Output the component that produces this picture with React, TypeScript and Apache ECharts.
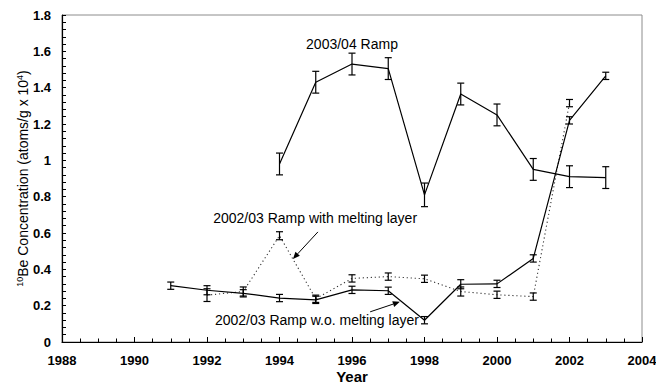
import React, { useEffect, useRef } from "react";
import * as echarts from "echarts";

// ---- Data ----
const yearsRamp0304 = [1994, 1995, 1996, 1997, 1998, 1999, 2000, 2001, 2002, 2003];
const ramp0304 = [0.98, 1.43, 1.53, 1.505, 0.81, 1.365, 1.25, 0.95, 0.91, 0.905];
const ramp0304Err = [0.06, 0.06, 0.06, 0.06, 0.065, 0.06, 0.06, 0.06, 0.06, 0.06];

const yearsWithout = [1991, 1992, 1993, 1994, 1995, 1996, 1997, 1998, 1999, 2000, 2001, 2002, 2003];
const rampWithout = [0.31, 0.285, 0.268, 0.242, 0.232, 0.287, 0.282, 0.12, 0.318, 0.32, 0.46, 1.22, 1.465];
const rampWithoutErr = [0.02, 0.025, 0.02, 0.02, 0.02, 0.02, 0.02, 0.02, 0.025, 0.02, 0.02, 0.02, 0.02];

const yearsWith = [1992, 1993, 1994, 1995, 1996, 1997, 1998, 1999, 2000, 2001, 2002];
const rampWith = [0.258, 0.278, 0.585, 0.238, 0.35, 0.36, 0.348, 0.278, 0.26, 0.25, 1.315];
const rampWithErr = [0.035, 0.025, 0.022, 0.02, 0.02, 0.02, 0.02, 0.025, 0.02, 0.02, 0.02];

const xTicks = { min: 1988, max: 2004, step: 2 };
const yTicks = { min: 0, max: 1.8, step: 0.2 };

// annotation anchors in data coordinates
const labelRamp0304 = { text: "2003/04 Ramp", at: [1996.0, 1.64] };
const labelWith = { text: "2002/03 Ramp with melting layer", at: [1992.17, 0.683] };
const arrowWith = { from: [1995.06, 0.606], to: [1994.37, 0.457] };
const labelWithout = { text: "2002/03 Ramp w.o. melting layer", at: [1992.22, 0.12] };
const arrowWithout = { from: [1996.5, 0.166], to: [1997.32, 0.221] };

const FONT = '"Liberation Sans", Arial, sans-serif';

function pairs(xs: number[], ys: number[]) {
  return xs.map((x, i) => [x, ys[i]]);
}
function errData(xs: number[], ys: number[], es: number[]) {
  return xs.map((x, i) => [x, ys[i] - es[i], ys[i] + es[i]]);
}

function errorRender(params: any, api: any) {
  const x = api.value(0);
  const lo = api.coord([x, api.value(1)]);
  const hi = api.coord([x, api.value(2)]);
  const w = 3.5;
  const style = { stroke: "#000", lineWidth: 1.2 };
  return {
    type: "group",
    children: [
      { type: "line", shape: { x1: lo[0], y1: lo[1], x2: hi[0], y2: hi[1] }, style },
      { type: "line", shape: { x1: lo[0] - w, y1: lo[1], x2: lo[0] + w, y2: lo[1] }, style },
      { type: "line", shape: { x1: hi[0] - w, y1: hi[1], x2: hi[0] + w, y2: hi[1] }, style },
    ],
  };
}

function arrowGraphics(p0: number[], p1: number[]) {
  const dx = p1[0] - p0[0];
  const dy = p1[1] - p0[1];
  const len = Math.sqrt(dx * dx + dy * dy) || 1;
  const ux = dx / len, uy = dy / len;
  const hl = 7, hw = 3;
  const bx = p1[0] - ux * hl, by = p1[1] - uy * hl;
  return [
    {
      type: "line",
      shape: { x1: p0[0], y1: p0[1], x2: bx, y2: by },
      style: { stroke: "#000", lineWidth: 1 },
      silent: true,
    },
    {
      type: "polygon",
      shape: {
        points: [
          [p1[0], p1[1]],
          [bx - uy * hw, by + ux * hw],
          [bx + uy * hw, by - ux * hw],
        ],
      },
      style: { fill: "#000" },
      silent: true,
    },
  ];
}

export default function App() {
  const ref = useRef<HTMLDivElement>(null);

  useEffect(() => {
    document.body.style.margin = "0";
    if (!ref.current) return;
    const chart = echarts.init(ref.current, null, { renderer: "svg" });

    const option: any = {
      animation: false,
      backgroundColor: "#fff",
      grid: {
        left: 62,
        right: 14,
        top: 15,
        bottom: 43,
        outerBoundsMode: "none",
        containLabel: false,
        show: true,
        borderColor: "#8c8c8c",
        borderWidth: 1,
        backgroundColor: "transparent",
      },
      xAxis: {
        type: "value",
        min: xTicks.min,
        max: xTicks.max,
        interval: xTicks.step,
        name: "Year",
        nameLocation: "middle",
        nameGap: 27,
        nameMoveOverlap: false,
        nameTextStyle: { fontFamily: FONT, fontSize: 15, fontWeight: "bold", color: "#000" },
        axisLine: { show: true, onZero: false, lineStyle: { color: "#000", width: 1.2 } },
        axisTick: { show: true, inside: true, length: 5, lineStyle: { color: "#000" } },
        minorTick: { show: true, splitNumber: 4, length: 3.5, lineStyle: { color: "#000" } },
        splitLine: { show: false },
        axisLabel: {
          fontFamily: FONT,
          fontSize: 13,
          fontWeight: "bold",
          color: "#000",
          margin: 12,
          formatter: (v: number) => String(Math.round(v)),
        },
      },
      yAxis: {
        type: "value",
        min: yTicks.min,
        max: yTicks.max,
        interval: yTicks.step,
        name: "{sup|10}Be Concentration (atoms/g x 10{sup|4})",
        nameLocation: "middle",
        nameGap: 31,
        nameMoveOverlap: false,
        nameTextStyle: {
          fontFamily: FONT,
          fontSize: 14,
          color: "#000",
          rich: {
            sup: { fontFamily: FONT, fontSize: 9, verticalAlign: "top", lineHeight: 16, color: "#000" },
          },
          lineHeight: 16,
        },
        axisLine: { show: true, onZero: false, lineStyle: { color: "#000", width: 1.2 } },
        axisTick: { show: true, inside: true, length: 4, lineStyle: { color: "#000" } },
        minorTick: { show: true, splitNumber: 5, length: 4, lineStyle: { color: "#000" } },
        splitLine: { show: false },
        axisLabel: {
          fontFamily: FONT,
          fontSize: 13,
          fontWeight: "bold",
          color: "#000",
          margin: 11,
          formatter: (v: number) => String(Math.round(v * 10) / 10),
        },
      },
      series: [
        {
          type: "line",
          name: "2003/04 Ramp",
          data: pairs(yearsRamp0304, ramp0304),
          showSymbol: false,
          symbol: "none",
          lineStyle: { color: "#000", width: 1.2 },
          z: 3,
        },
        {
          type: "line",
          name: "2002/03 Ramp w.o. melting layer",
          data: pairs(yearsWithout, rampWithout),
          showSymbol: false,
          symbol: "none",
          lineStyle: { color: "#000", width: 1.2 },
          z: 3,
        },
        {
          type: "line",
          name: "2002/03 Ramp with melting layer",
          data: pairs(yearsWith, rampWith),
          showSymbol: false,
          symbol: "none",
          lineStyle: { color: "#333", width: 1.1, type: [1.2, 2.8] },
          z: 2,
        },
        {
          type: "custom",
          name: "err0304",
          renderItem: errorRender,
          data: errData(yearsRamp0304, ramp0304, ramp0304Err),
          encode: { x: 0, y: [1, 2] },
          z: 4,
        },
        {
          type: "custom",
          name: "errWithout",
          renderItem: errorRender,
          data: errData(yearsWithout, rampWithout, rampWithoutErr),
          encode: { x: 0, y: [1, 2] },
          z: 4,
        },
        {
          type: "custom",
          name: "errWith",
          renderItem: errorRender,
          data: errData(yearsWith, rampWith, rampWithErr),
          encode: { x: 0, y: [1, 2] },
          z: 4,
        },
      ],
    };

    chart.setOption(option);

    const toPx = (p: number[]) => chart.convertToPixel({ gridIndex: 0 }, p) as number[];
    const textEl = (lbl: { text: string; at: number[] }, align: string) => {
      const p = toPx(lbl.at);
      return {
        type: "text",
        x: p[0],
        y: p[1],
        silent: true,
        style: {
          text: lbl.text,
          fontFamily: FONT,
          fontSize: 14,
          fill: "#000",
          align,
          verticalAlign: "middle",
        },
      };
    };

    chart.setOption({
      graphic: [
        textEl(labelRamp0304, "center"),
        textEl(labelWith, "left"),
        textEl(labelWithout, "left"),
        ...arrowGraphics(toPx(arrowWith.from), toPx(arrowWith.to)),
        ...arrowGraphics(toPx(arrowWithout.from), toPx(arrowWithout.to)),
      ],
    });

    return () => {
      chart.dispose();
    };
  }, []);

  return <div ref={ref} style={{ width: 656, height: 385 }} />;
}
